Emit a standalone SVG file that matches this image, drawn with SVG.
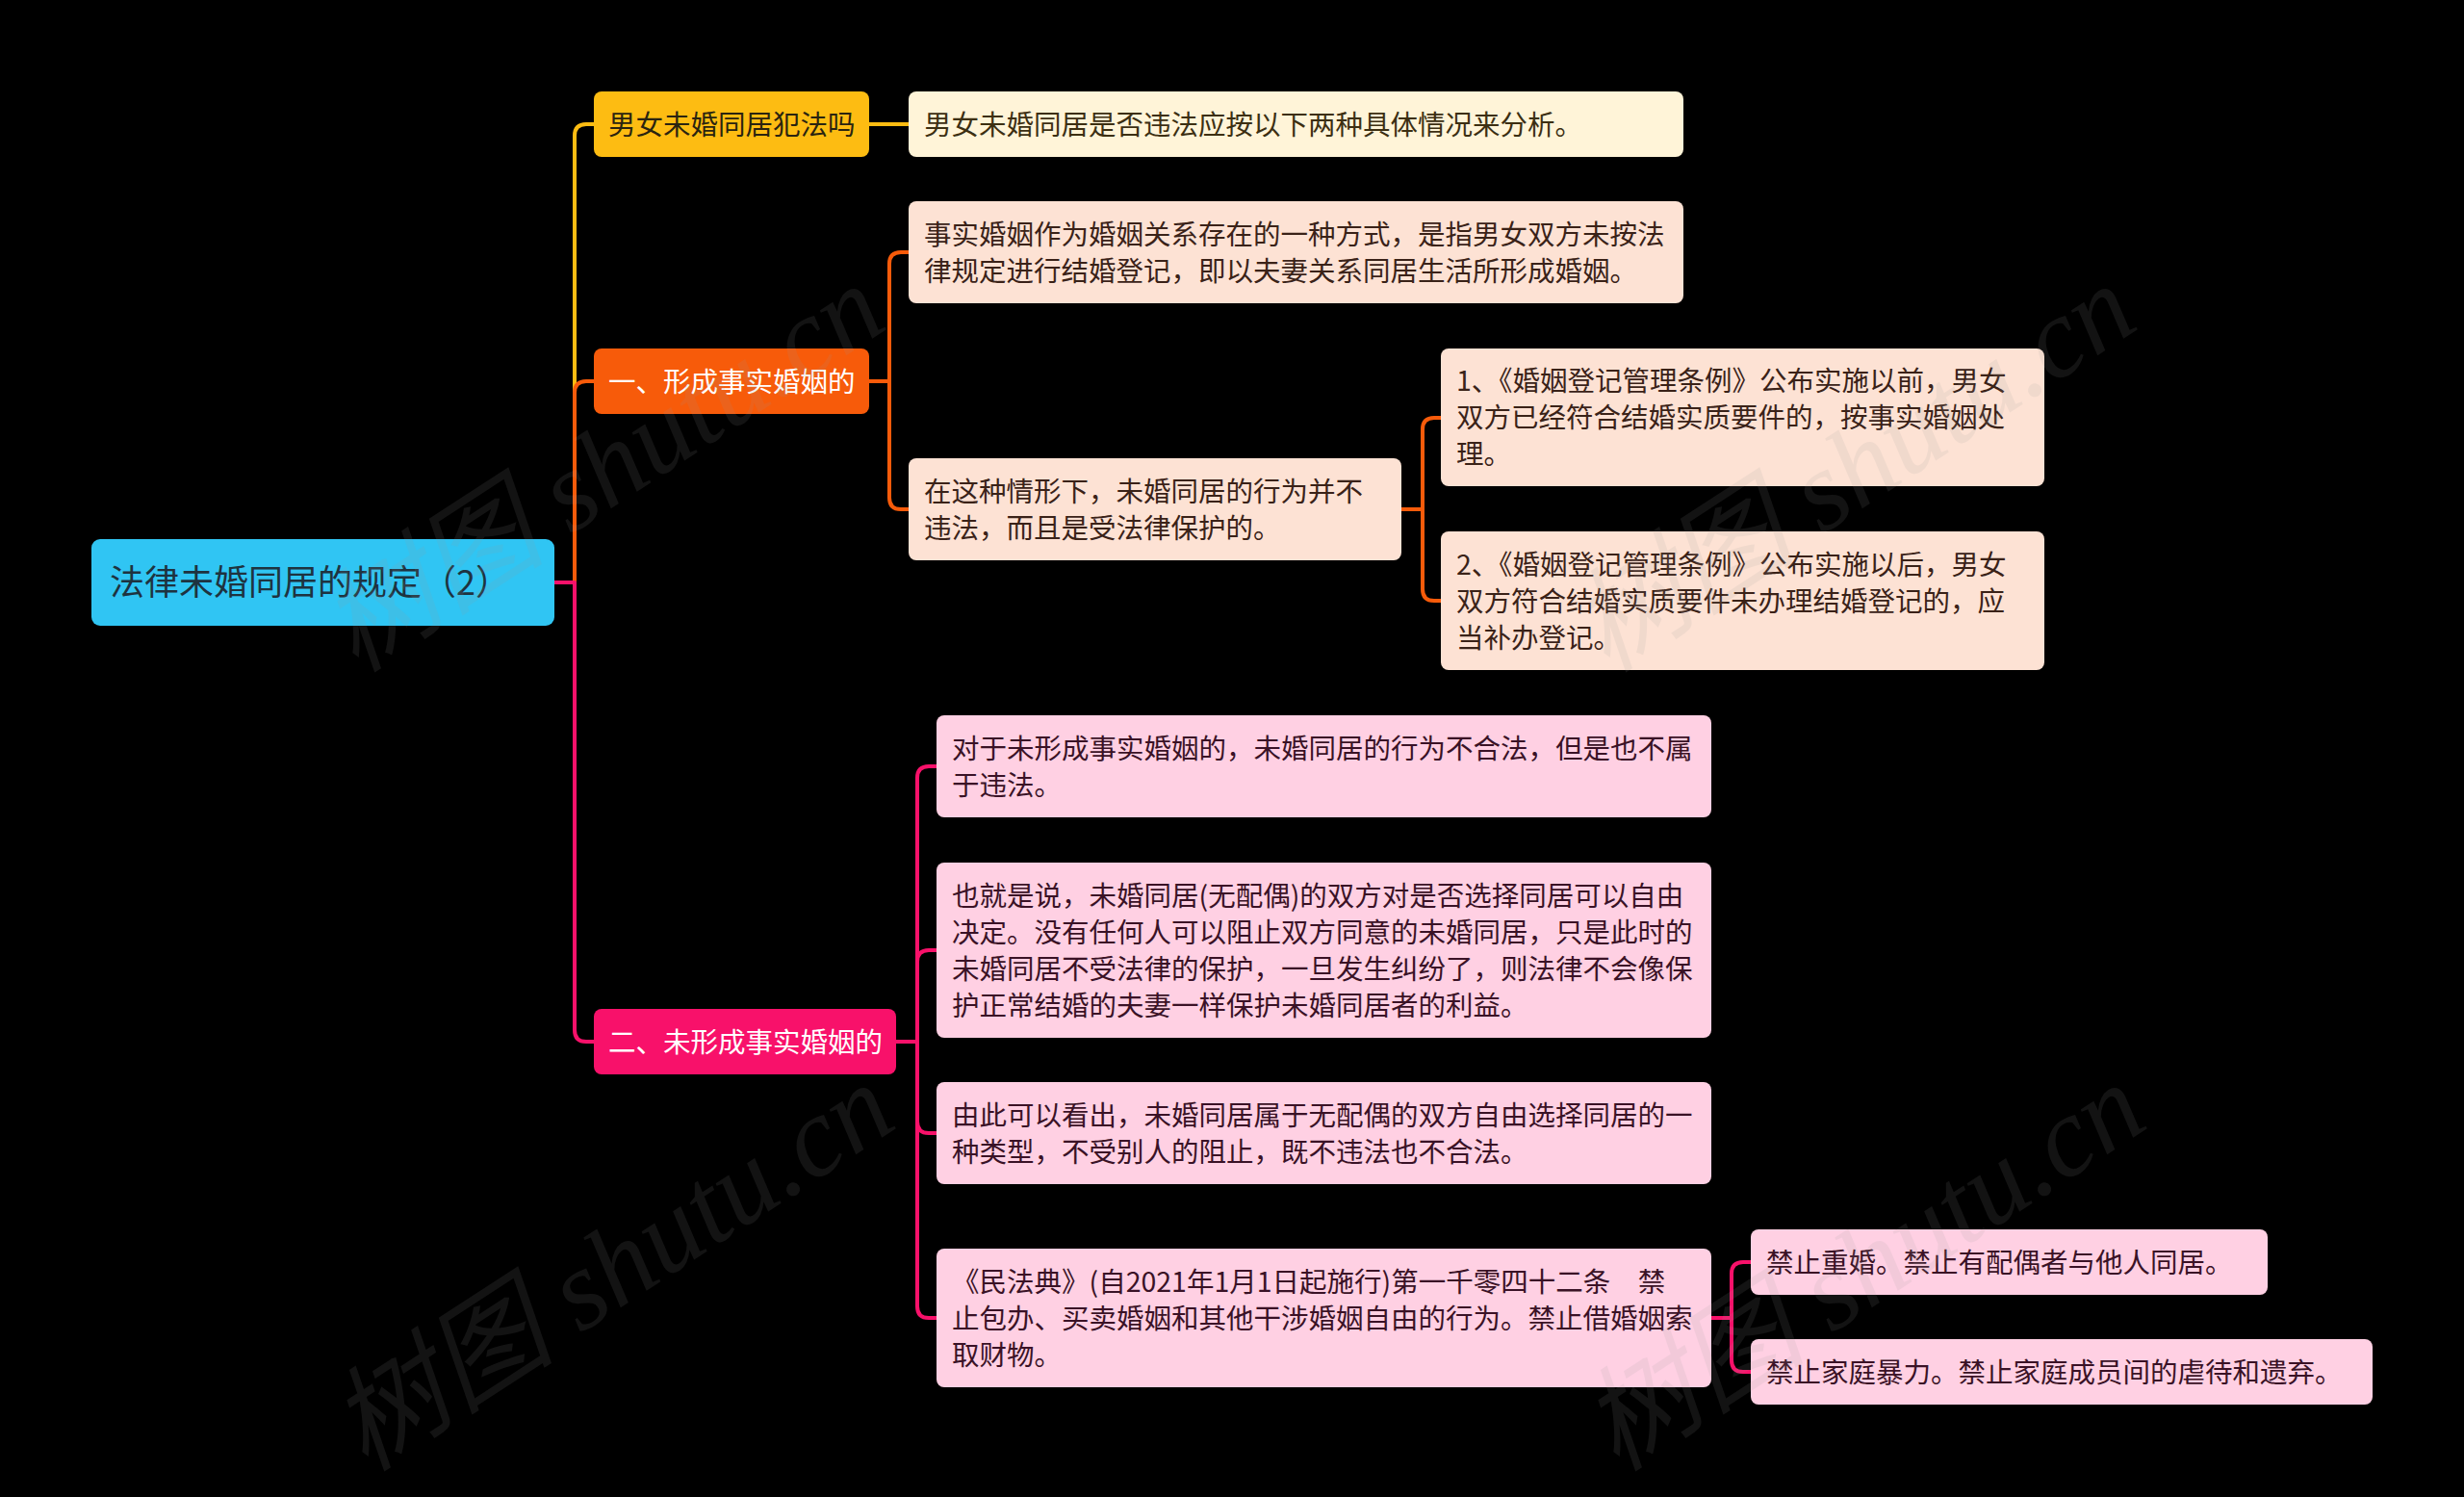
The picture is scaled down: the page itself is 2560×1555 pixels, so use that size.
<svg xmlns="http://www.w3.org/2000/svg" width="2560" height="1555" viewBox="0 0 2560 1555">
<style>
.t{font-family:"Noto Sans CJK SC","Noto Sans",sans-serif;font-size:28.5px}
.root{font-family:"Noto Sans CJK SC","Noto Sans",sans-serif;font-size:36px;fill:#1e3340}
.dk{fill:#2a2410}
.wh{fill:#ffffff}
.cr{fill:#3c2f12}
.pe{fill:#3a2218}
.pk{fill:#3a1226}
.c{fill:none;stroke-width:4;stroke-linecap:round;stroke-linejoin:round}
.cy{stroke:#FDBC12}
.co{stroke:#F75B0A}
.cp{stroke:#F8116A}
.wm{font-family:"Liberation Serif","Noto Sans CJK SC",serif;font-style:italic;font-size:118px;fill:#9a9a9a;opacity:0.12}
</style>
<rect x="0" y="0" width="2560" height="1555" fill="#000000"/>
<g id="connectors">
<path class="c cy" d="M576,605 H597 V141 Q597,129 609,129 H617"/>
<path class="c co" d="M576,605 H597 V408 Q597,396 609,396 H617"/>
<path class="c cp" d="M576,605 H597 V1070 Q597,1082 609,1082 H617"/>
<path class="c cy" d="M903,129 H944"/>
<path class="c co" d="M903,396 H924 V274 Q924,262 936,262 H944"/>
<path class="c co" d="M903,396 H924 V517 Q924,529 936,529 H944"/>
<path class="c co" d="M1456,529 H1478 V446 Q1478,434 1490,434 H1497"/>
<path class="c co" d="M1456,529 H1478 V612 Q1478,624 1490,624 H1497"/>
<path class="c cp" d="M931,1082 H953 V808 Q953,796 965,796 H973"/>
<path class="c cp" d="M931,1082 H953 V999 Q953,987 965,987 H973"/>
<path class="c cp" d="M931,1082 H953 V1165 Q953,1177 965,1177 H973"/>
<path class="c cp" d="M931,1082 H953 V1357 Q953,1369 965,1369 H973"/>
<path class="c cp" d="M1778,1369 H1799 V1323 Q1799,1311 1811,1311 H1819"/>
<path class="c cp" d="M1778,1369 H1799 V1413 Q1799,1425 1811,1425 H1819"/>
</g>
<g id="root">
<rect x="95" y="560" width="481" height="90" rx="9" fill="#30C5F3"/>
<text class="root" x="114" y="618">法律未婚同居的规定（2）</text>
</g>
<g id="n1">
<rect x="617" y="95" width="286" height="68" rx="8" fill="#FDBC12"/>
<text class="t dk" x="632" y="140">男女未婚同居犯法吗</text>
</g>
<g id="n2">
<rect x="617" y="362" width="286" height="68" rx="8" fill="#F75B0A"/>
<text class="t wh" x="632" y="407">一、形成事实婚姻的</text>
</g>
<g id="n3">
<rect x="617" y="1048" width="314" height="68" rx="8" fill="#F8116A"/>
<text class="t wh" x="632" y="1093">二、未形成事实婚姻的</text>
</g>
<g id="n1a">
<rect x="944" y="95" width="805" height="68" rx="8" fill="#FFF4D8"/>
<text class="t cr" x="960" y="140">男女未婚同居是否违法应按以下两种具体情况来分析。</text>
</g>
<g id="n2a">
<rect x="944" y="209" width="805" height="106" rx="8" fill="#FDE2D4"/>
<text class="t pe" x="960" y="254">事实婚姻作为婚姻关系存在的一种方式，是指男女双方未按法</text>
<text class="t pe" x="960" y="292">律规定进行结婚登记，即以夫妻关系同居生活所形成婚姻。</text>
</g>
<g id="n2b">
<rect x="944" y="476" width="512" height="106" rx="8" fill="#FDE2D4"/>
<text class="t pe" x="960" y="521">在这种情形下，未婚同居的行为并不</text>
<text class="t pe" x="960" y="559">违法，而且是受法律保护的。</text>
</g>
<g id="n2b1">
<rect x="1497" y="362" width="627" height="143" rx="8" fill="#FDE2D4"/>
<text class="t pe" x="1513" y="406">1、《婚姻登记管理条例》公布实施以前，男女</text>
<text class="t pe" x="1513" y="444">双方已经符合结婚实质要件的，按事实婚姻处</text>
<text class="t pe" x="1513" y="482">理。</text>
</g>
<g id="n2b2">
<rect x="1497" y="552" width="627" height="144" rx="8" fill="#FDE2D4"/>
<text class="t pe" x="1513" y="597">2、《婚姻登记管理条例》公布实施以后，男女</text>
<text class="t pe" x="1513" y="635">双方符合结婚实质要件未办理结婚登记的，应</text>
<text class="t pe" x="1513" y="673">当补办登记。</text>
</g>
<g id="n3a">
<rect x="973" y="743" width="805" height="106" rx="8" fill="#FFD0E3"/>
<text class="t pk" x="989" y="788">对于未形成事实婚姻的，未婚同居的行为不合法，但是也不属</text>
<text class="t pk" x="989" y="826">于违法。</text>
</g>
<g id="n3b">
<rect x="973" y="896" width="805" height="182" rx="8" fill="#FFD0E3"/>
<text class="t pk" x="989" y="941">也就是说，未婚同居(无配偶)的双方对是否选择同居可以自由</text>
<text class="t pk" x="989" y="979">决定。没有任何人可以阻止双方同意的未婚同居，只是此时的</text>
<text class="t pk" x="989" y="1017">未婚同居不受法律的保护，一旦发生纠纷了，则法律不会像保</text>
<text class="t pk" x="989" y="1055">护正常结婚的夫妻一样保护未婚同居者的利益。</text>
</g>
<g id="n3c">
<rect x="973" y="1124" width="805" height="106" rx="8" fill="#FFD0E3"/>
<text class="t pk" x="989" y="1169">由此可以看出，未婚同居属于无配偶的双方自由选择同居的一</text>
<text class="t pk" x="989" y="1207">种类型，不受别人的阻止，既不违法也不合法。</text>
</g>
<g id="n3d">
<rect x="973" y="1297" width="805" height="144" rx="8" fill="#FFD0E3"/>
<text class="t pk" x="989" y="1342">《民法典》(自2021年1月1日起施行)第一千零四十二条　禁</text>
<text class="t pk" x="989" y="1380">止包办、买卖婚姻和其他干涉婚姻自由的行为。禁止借婚姻索</text>
<text class="t pk" x="989" y="1418">取财物。</text>
</g>
<g id="n3d1">
<rect x="1819" y="1277" width="537" height="68" rx="8" fill="#FFD0E3"/>
<text class="t pk" x="1835" y="1322">禁止重婚。禁止有配偶者与他人同居。</text>
</g>
<g id="n3d2">
<rect x="1819" y="1391" width="646" height="68" rx="8" fill="#FFD0E3"/>
<text class="t pk" x="1835" y="1436">禁止家庭暴力。禁止家庭成员间的虐待和遗弃。</text>
</g>
<g id="watermark">
<text class="wm" transform="translate(370,700) rotate(-33)">树图 shutu.cn</text>
<text class="wm" transform="translate(1670,700) rotate(-33)">树图 shutu.cn</text>
<text class="wm" transform="translate(380,1530) rotate(-33)">树图 shutu.cn</text>
<text class="wm" transform="translate(1680,1530) rotate(-33)">树图 shutu.cn</text>
</g>
</svg>
